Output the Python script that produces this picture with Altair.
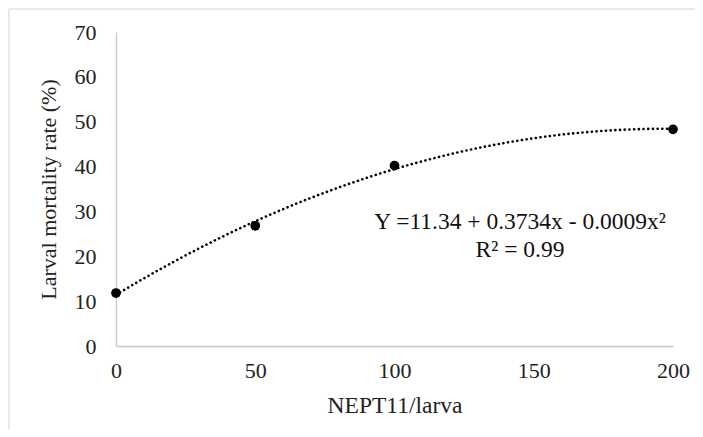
import altair as alt
import pandas as pd

doses = [0, 50, 100, 200]
mortality = [11.8, 26.8, 40.2, 48.3]
eq_lines = ["Y =11.34 + 0.3734x - 0.0009x\u00b2", "R\u00b2 = 0.99"]

df = pd.DataFrame({"dose": doses, "mort": mortality})
FONT = "Liberation Serif"

x = alt.X("dose:Q", title="NEPT11/larva",
          scale=alt.Scale(domain=[0, 200], nice=False),
          axis=alt.Axis(values=[0, 50, 100, 150, 200], ticks=False, grid=False,
                        domainColor="#c8c8c8", domainWidth=1.3, labelFlush=False,
                        labelPadding=14, titlePadding=12, titleFontSize=23.5))
y = alt.Y("mort:Q", title="Larval mortality rate (%)",
          scale=alt.Scale(domain=[0, 70], nice=False),
          axis=alt.Axis(values=[0, 10, 20, 30, 40, 50, 60, 70], ticks=False, grid=False,
                        domainColor="#c8c8c8", domainWidth=1.3, labelFlush=False,
                        labelPadding=20, titlePadding=14))

base = alt.Chart(df)
one = pd.DataFrame({"a": [0]})

frame_top = alt.Chart(one).mark_rule(stroke="#e0e0e0", strokeWidth=1.5, clip=False).encode(
    x=alt.value(-107), x2=alt.value(600), y=alt.value(-23))
frame_left = alt.Chart(one).mark_rule(stroke="#e0e0e0", strokeWidth=1.5, clip=False).encode(
    x=alt.value(-107), y=alt.value(-23), y2=alt.value(420))

trend = base.transform_regression(
    "dose", "mort", method="poly", order=2, extent=[0, 200]
).mark_line(color="black", strokeWidth=2.6, strokeDash=[0.1, 4.6], strokeCap="round").encode(x=x, y=y)

pts = base.mark_circle(color="black", opacity=1, size=95).encode(x=x, y=y)

eq1 = alt.Chart(pd.DataFrame({"t": [eq_lines[0]]})).mark_text(
    font=FONT, fontSize=23.5, color="#111", align="center").encode(
    text="t:N", x=alt.value(404), y=alt.value(190))
eq2 = alt.Chart(pd.DataFrame({"t": [eq_lines[1]]})).mark_text(
    font=FONT, fontSize=23.5, color="#111", align="center").encode(
    text="t:N", x=alt.value(404), y=alt.value(218))

chart = alt.layer(frame_top, frame_left, trend, pts, eq1, eq2).properties(
    width=557, height=314,
    autosize=alt.AutoSizeParams(type="none"),
    padding={"left": 108, "top": 24, "right": 22, "bottom": 83},
).configure_view(stroke=None).configure_axis(
    labelFont=FONT, titleFont=FONT, labelFontSize=22, titleFontSize=22,
    labelColor="#222", titleColor="#222", titleFontWeight="normal",
)

chart.save("out.html", embed_options={"renderer": "svg", "actions": False})
